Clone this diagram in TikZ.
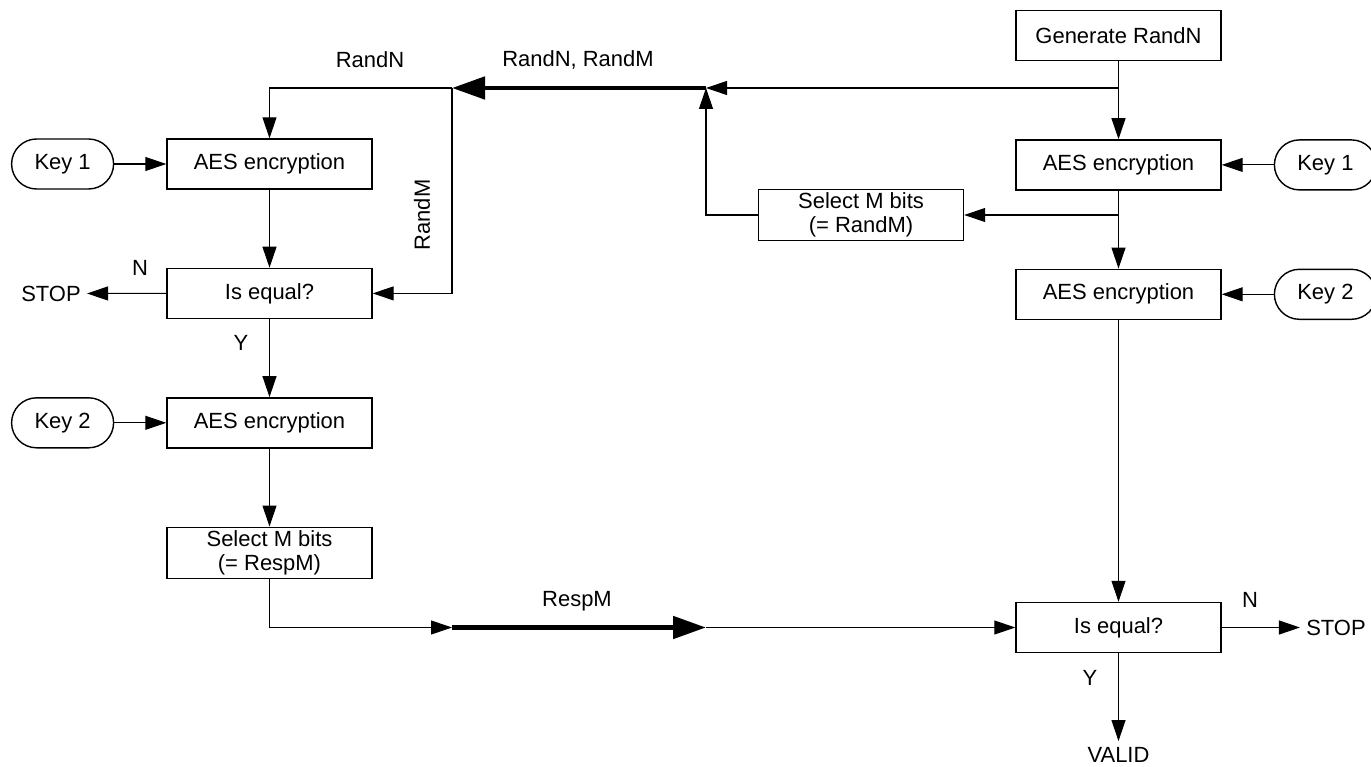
\documentclass[tikz,border=0pt]{standalone}
\usepackage{fontspec}
\setmainfont{Liberation Sans}
\usetikzlibrary{positioning,arrows.meta}

\begin{document}
\begin{tikzpicture}[>={Triangle[length=0.42cm,width=0.28cm]},line width=0.6pt,node distance=1.56cm,
  txt/.style={font=\fontsize{12.5}{13.5}\selectfont},
  box/.style={txt,draw,line width=0.8pt,minimum width=4.1cm,minimum height=1cm,inner sep=2pt,align=center},
  key/.style={txt,draw,line width=0.8pt,rounded corners=0.5cm,minimum width=2.04cm,minimum height=1cm},
  bigflow/.style={line width=2.8pt,-{Triangle[length=0.66cm,width=0.44cm]}}]
\useasboundingbox (0,0) rectangle (27.42,-15.34);
% left side
\node[box] (aesl1) at (5.39,-3.28) {AES encryption};
\node[box] (eql) [below=of aesl1] {Is equal?};
\node[box] (aesl2) [below=of eql] {AES encryption};
\node[box] (sell) [below=of aesl2] {Select M bits\\(= RespM)};
\node[key] (key1l) [left=1.04cm of aesl1] {Key 1};
\node[key] (key2l) [left=1.04cm of aesl2] {Key 2};
\node[txt] (stopl) at (1.02,-5.87) {STOP};
% right side
\node[box] (gen) at (22.37,-0.71) {Generate RandN};
\node[box] (aesr1) [below=of gen] {AES encryption};
\node[box] (aesr2) [below=of aesr1] {AES encryption};
\node[box] (selr) at (17.22,-4.3) {Select M bits\\(= RandM)};
\node[box] (eqr) at (22.37,-12.55) {Is equal?};
\node[key] (key1r) [right=1.04cm of aesr1] {Key 1};
\node[key] (key2r) [right=1.04cm of aesr2] {Key 2};
\node[txt] (stopr) at (26.72,-12.55) {STOP};
\node[txt] (valid) at (22.37,-15.1) {VALID};
% labels
\node[txt] (lrandn) at (7.4,-1.2) {RandN};
\node[txt] (lrandnm) at (11.56,-1.2) {RandN, RandM};
\node[txt,rotate=90] (lrandm) at (8.44,-4.3) {RandM};
\node[txt] (lrespm) at (11.54,-12.02) {RespM};
\node[txt] (nl) at (2.8,-5.36) {N};
\node[txt] (yl) at (4.82,-6.86) {Y};
\node[txt] (nr) at (25.0,-12.0) {N};
\node[txt] (yr) at (21.8,-13.56) {Y};
% junctions
\coordinate (tr) at (22.37,-1.76);
\coordinate (ja) at (14.12,-1.76);
\coordinate (jb) at (9.04,-1.76);
\coordinate (jc) at (9.04,-12.55);
\coordinate (jd) at (14.12,-12.55);

\draw[->] (key1l) -- (aesl1);
\draw[->] (aesl1) -- (eql);
\draw[->] (eql) -- (stopl);
\draw[->] (eql) -- (aesl2);
\draw[->] (key2l) -- (aesl2);
\draw[->] (aesl2) -- (sell);
\draw[->] (gen) -- (aesr1);
\draw[->] (aesr1) -- (aesr2);
\draw[->] (aesr2) -- (eqr);
\draw[->] (key1r) -- (aesr1);
\draw[->] (key2r) -- (aesr2);
\draw[->] (eqr) -- (stopr);
\draw[->] (eqr) -- (valid);
% RandN / RandM path
\draw[->] (tr) -- (ja);
\draw[bigflow] (ja) -- (jb);
\draw[->] (jb) -| (aesl1.north);
\draw[->] (jb) |- (eql.east);
\draw[->] (aesr1.south |- selr.east) -- (selr.east);
\draw[->] (selr.west) -| (ja);
% RespM path
\draw[->] (sell.south) |- (jc);
\draw[bigflow] (jc) -- (jd);
\draw[->] (jd) -- (eqr.west);
\end{tikzpicture}
\end{document}
